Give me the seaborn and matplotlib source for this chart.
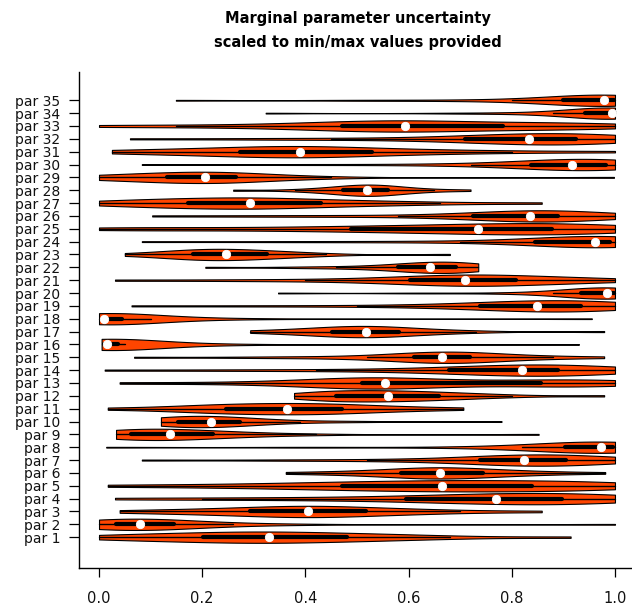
import numpy as np
import pandas as pd
import matplotlib
matplotlib.use("Agg")
import matplotlib.pyplot as plt
import seaborn as sns

# ---- data: representative samples per parameter (scaled 0..1) ----
p1 = [0.0, 0.04, 0.09, 0.14, 0.18, 0.21, 0.24, 0.27, 0.30, 0.32, 0.34, 0.37, 0.40, 0.43, 0.47, 0.51, 0.55, 0.60, 0.68, 0.914]
p2 = [0.0, 0.0, 0.01, 0.02, 0.03, 0.035, 0.045, 0.055, 0.065, 0.075, 0.085, 0.095, 0.11, 0.125, 0.14, 0.16, 0.2, 0.26, 0.38, 1.0]
p3 = [0.04, 0.12, 0.18, 0.23, 0.27, 0.30, 0.33, 0.36, 0.38, 0.40, 0.41, 0.43, 0.45, 0.48, 0.51, 0.54, 0.58, 0.63, 0.70, 0.858]
p4 = [0.031, 0.2, 0.35, 0.45, 0.55, 0.61, 0.66, 0.70, 0.74, 0.76, 0.78, 0.81, 0.84, 0.87, 0.89, 0.92, 0.95, 0.97, 0.99, 1.0]
p5 = [0.017, 0.18, 0.30, 0.38, 0.44, 0.48, 0.53, 0.58, 0.62, 0.65, 0.678, 0.71, 0.75, 0.79, 0.83, 0.87, 0.91, 0.95, 0.98, 1.0]
p6 = [0.362, 0.45, 0.50, 0.54, 0.57, 0.59, 0.61, 0.63, 0.645, 0.655, 0.665, 0.68, 0.70, 0.72, 0.74, 0.76, 0.79, 0.83, 0.88, 0.981]
p7 = [0.083, 0.35, 0.52, 0.62, 0.70, 0.75, 0.77, 0.79, 0.81, 0.82, 0.826, 0.84, 0.86, 0.88, 0.90, 0.92, 0.94, 0.96, 0.98, 1.0]
p8 = [0.014, 0.4, 0.7, 0.82, 0.88, 0.91, 0.93, 0.945, 0.96, 0.97, 0.976, 0.982, 0.988, 0.992, 0.995, 0.997, 0.999, 1.0, 1.0, 1.0]
p9 = [0.033, 0.036, 0.042, 0.05, 0.056, 0.064, 0.08, 0.1, 0.118, 0.132, 0.142, 0.155, 0.17, 0.19, 0.215, 0.24, 0.27, 0.32, 0.42, 0.852]
p10 = [0.12, 0.123, 0.13, 0.14, 0.148, 0.155, 0.17, 0.185, 0.2, 0.212, 0.224, 0.236, 0.25, 0.262, 0.268, 0.29, 0.33, 0.39, 0.5, 0.78]
p11 = [0.017, 0.12, 0.18, 0.21, 0.235, 0.25, 0.28, 0.31, 0.335, 0.355, 0.375, 0.395, 0.415, 0.44, 0.465, 0.49, 0.52, 0.56, 0.62, 0.706]
p12 = [0.378, 0.42, 0.44, 0.45, 0.455, 0.46, 0.49, 0.52, 0.54, 0.555, 0.567, 0.58, 0.60, 0.63, 0.655, 0.67, 0.70, 0.74, 0.80, 0.979]
p13 = [0.04, 0.25, 0.38, 0.44, 0.49, 0.515, 0.525, 0.535, 0.545, 0.552, 0.558, 0.6, 0.68, 0.76, 0.85, 0.88, 0.92, 0.95, 0.98, 1.0]
p14 = [0.011, 0.25, 0.42, 0.55, 0.64, 0.69, 0.72, 0.75, 0.78, 0.81, 0.828, 0.845, 0.86, 0.875, 0.885, 0.9, 0.93, 0.96, 0.98, 1.0]
p15 = [0.068, 0.3, 0.42, 0.52, 0.58, 0.62, 0.635, 0.645, 0.655, 0.66, 0.668, 0.68, 0.695, 0.705, 0.715, 0.73, 0.76, 0.81, 0.88, 0.979]
p16 = [0.005, 0.006, 0.007, 0.008, 0.009, 0.01, 0.012, 0.013, 0.014, 0.015, 0.017, 0.02, 0.025, 0.03, 0.033, 0.05, 0.1, 0.16, 0.28, 0.93]
p17 = [0.293, 0.35, 0.39, 0.42, 0.445, 0.455, 0.47, 0.485, 0.5, 0.51, 0.524, 0.535, 0.55, 0.565, 0.575, 0.6, 0.63, 0.67, 0.73, 0.979]
p18 = [0.0, 0.0, 0.001, 0.003, 0.005, 0.006, 0.007, 0.008, 0.0085, 0.0088, 0.0092, 0.012, 0.018, 0.028, 0.04, 0.06, 0.1, 0.17, 0.3, 0.955]
p19 = [0.063, 0.3, 0.5, 0.62, 0.7, 0.75, 0.78, 0.8, 0.82, 0.84, 0.858, 0.87, 0.89, 0.91, 0.93, 0.95, 0.96, 0.975, 0.99, 1.0]
p20 = [0.347, 0.62, 0.8, 0.88, 0.92, 0.94, 0.955, 0.965, 0.975, 0.982, 0.988, 0.992, 0.995, 0.997, 0.998, 0.999, 1.0, 1.0, 1.0, 1.0]
p21 = [0.031, 0.25, 0.4, 0.5, 0.58, 0.61, 0.64, 0.67, 0.69, 0.705, 0.715, 0.73, 0.75, 0.77, 0.8, 0.83, 0.86, 0.9, 0.95, 1.0]
p22 = [0.206, 0.38, 0.46, 0.52, 0.56, 0.585, 0.6, 0.615, 0.628, 0.637, 0.647, 0.657, 0.667, 0.678, 0.69, 0.7, 0.71, 0.72, 0.73, 0.735]
p23 = [0.05, 0.11, 0.14, 0.16, 0.175, 0.185, 0.2, 0.215, 0.23, 0.242, 0.252, 0.265, 0.28, 0.3, 0.32, 0.34, 0.36, 0.39, 0.44, 0.68]
p24 = [0.083, 0.35, 0.55, 0.7, 0.8, 0.86, 0.9, 0.925, 0.945, 0.957, 0.965, 0.972, 0.98, 0.985, 0.99, 0.994, 0.997, 1.0, 1.0, 1.0]
p25 = [0.0, 0.08, 0.2, 0.35, 0.45, 0.5, 0.56, 0.62, 0.68, 0.72, 0.75, 0.78, 0.81, 0.84, 0.87, 0.9, 0.93, 0.95, 0.98, 1.0]
p26 = [0.103, 0.3, 0.45, 0.58, 0.68, 0.74, 0.77, 0.79, 0.81, 0.83, 0.84, 0.85, 0.86, 0.87, 0.885, 0.9, 0.915, 0.935, 0.965, 1.0]
p27 = [0.0, 0.04, 0.08, 0.12, 0.15, 0.18, 0.21, 0.24, 0.265, 0.285, 0.3, 0.32, 0.35, 0.38, 0.42, 0.46, 0.51, 0.57, 0.66, 0.858]
p28 = [0.26, 0.38, 0.42, 0.45, 0.465, 0.475, 0.49, 0.5, 0.51, 0.515, 0.525, 0.532, 0.54, 0.55, 0.558, 0.57, 0.59, 0.61, 0.65, 0.72]
p29 = [0.0, 0.01, 0.03, 0.07, 0.11, 0.14, 0.16, 0.175, 0.19, 0.2, 0.21, 0.22, 0.23, 0.245, 0.26, 0.28, 0.31, 0.36, 0.45, 0.998]
p30 = [0.083, 0.38, 0.6, 0.72, 0.8, 0.85, 0.87, 0.89, 0.905, 0.912, 0.92, 0.93, 0.945, 0.96, 0.98, 0.99, 0.995, 1.0, 1.0, 1.0]
p31 = [0.025, 0.08, 0.15, 0.2, 0.25, 0.28, 0.31, 0.34, 0.36, 0.38, 0.40, 0.42, 0.45, 0.48, 0.52, 0.56, 0.62, 0.7, 0.8, 1.0]
p32 = [0.06, 0.3, 0.45, 0.58, 0.68, 0.72, 0.75, 0.78, 0.805, 0.825, 0.841, 0.86, 0.88, 0.9, 0.92, 0.94, 0.96, 0.975, 0.99, 1.0]
p33 = [0.0, 0.15, 0.3, 0.38, 0.44, 0.48, 0.52, 0.55, 0.57, 0.585, 0.6, 0.63, 0.67, 0.72, 0.77, 0.82, 0.87, 0.92, 0.96, 1.0]
p34 = [0.323, 0.7, 0.82, 0.88, 0.92, 0.95, 0.97, 0.98, 0.988, 0.993, 0.997, 0.999, 1.0, 1.0, 1.0, 1.0, 1.0, 1.0, 1.0, 1.0]
p35 = [0.149, 0.5, 0.68, 0.8, 0.87, 0.91, 0.935, 0.95, 0.965, 0.975, 0.983, 0.988, 0.992, 0.995, 0.997, 0.999, 1.0, 1.0, 1.0, 1.0]

samples = [p1, p2, p3, p4, p5, p6, p7, p8, p9, p10, p11, p12, p13, p14, p15, p16, p17,
           p18, p19, p20, p21, p22, p23, p24, p25, p26, p27, p28, p29, p30, p31, p32,
           p33, p34, p35]
param_names = [f"par {i}" for i in range(1, 36)]
x_ticks = [0.0, 0.2, 0.4, 0.6, 0.8, 1.0]
x_tick_labels = ["0.0", "0.2", "0.4", "0.6", "0.8", "1.0"]
title_lines = ["Marginal parameter uncertainty", "scaled to min/max values provided"]

df = pd.DataFrame({
    "param": np.repeat(param_names, [len(s) for s in samples]),
    "value": np.concatenate([np.asarray(s, float) for s in samples]),
})
order = param_names[::-1]  # par 35 at top

sns.set_theme(style="ticks")
plt.rcParams["font.family"] = ["DejaVu Sans"]

W, H = 632, 611
fig = plt.figure(figsize=(W / 100, H / 100), dpi=100)
ax = fig.add_axes([79 / W, 43 / H, 1 - 79 / W, (568 - 72) / H])

sns.violinplot(
    data=df, x="value", y="param", order=order, orient="h", ax=ax,
    cut=0, density_norm="width", width=0.88, bw_adjust=0.85,
    color="#FF4500", saturation=1, linecolor="black", linewidth=0.8,
    inner="box",
    inner_kws=dict(box_width=3.0, whis_width=1.0, marker="o", markersize=6),
)

ax.set_xlim(-0.0388, 1.033)
ax.set_ylim(36.4, -2.2)
ax.set_xticks(x_ticks)
ax.set_xticklabels(x_tick_labels)
ax.set_xlabel("")
ax.set_ylabel("")
for s in ["top", "right"]:
    ax.spines[s].set_visible(False)
for s in ["left", "bottom"]:
    ax.spines[s].set_color("black")
    ax.spines[s].set_linewidth(1.0)
ax.tick_params(axis="x", length=6.5, width=0.9, color="black", labelsize=10.5, pad=10, labelcolor="#111111")
ax.tick_params(axis="y", length=7, width=0.9, color="black", labelsize=10, pad=6.5, labelcolor="#111111")
ax.grid(False)
ax.set_facecolor("white")

fig.text(0.566, 1 - 18 / H, title_lines[0], ha="center", va="center",
         fontsize=10.5, fontweight="bold", color="black")
fig.text(0.566, 1 - 42 / H, title_lines[1], ha="center", va="center",
         fontsize=10.5, fontweight="bold", color="black")

fig.savefig("out.png", dpi=100, facecolor="white")
